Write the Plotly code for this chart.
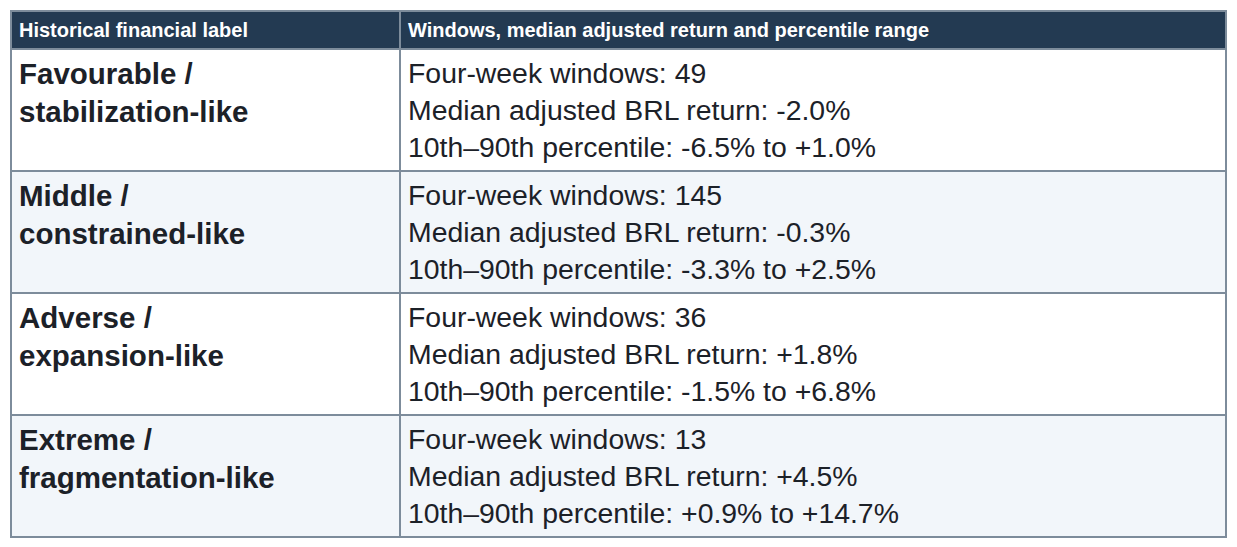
import plotly.graph_objects as go

header_labels = ["Historical financial label", "Windows, median adjusted return and percentile range"]
regime_labels = ["Favourable /<br>stabilization-like", "Middle /<br>constrained-like",
                 "Adverse /<br>expansion-like", "Extreme /<br>fragmentation-like"]
window_counts = [49, 145, 36, 13]
median_returns = ["-2.0%", "-0.3%", "+1.8%", "+4.5%"]
p10 = ["-6.5%", "-3.3%", "-1.5%", "+0.9%"]
p90 = ["+1.0%", "+2.5%", "+6.8%", "+14.7%"]

detail_text = [
    f"Four-week windows: {n}<br>Median adjusted BRL return: {m}<br>10th\u201390th percentile: {lo} to {hi}"
    for n, m, lo, hi in zip(window_counts, median_returns, p10, p90)
]

row_fill = ["#ffffff", "#f2f6fa", "#ffffff", "#f2f6fa"]
border = "#7d8c9b"
font_family = "Liberation Sans, Arial, sans-serif"

fig = go.Figure(go.Table(
    columnwidth=[389, 826],
    header=dict(
        values=[f"<b>{h}</b>" for h in header_labels],
        fill_color="#233a52",
        line=dict(color=border, width=2),
        font=dict(color="white", size=20, family=font_family),
        align="left",
        height=37,
    ),
    cells=dict(
        values=[[f"<b>{r}</b>" for r in regime_labels], detail_text],
        fill_color=[row_fill, row_fill],
        line=dict(color=border, width=2),
        font=dict(color=["#1c2128", "#1c2128"], size=[29.5, 28.4], family=font_family),
        align="left",
        height=122,
    ),
))

# page body keeps an 8px margin, so the figure is shrunk to fit the window
fig.update_layout(
    width=1221, height=531,
    margin=dict(l=3, r=3, t=3, b=0),
    paper_bgcolor="white",
)

fig.write_html("out.html")
